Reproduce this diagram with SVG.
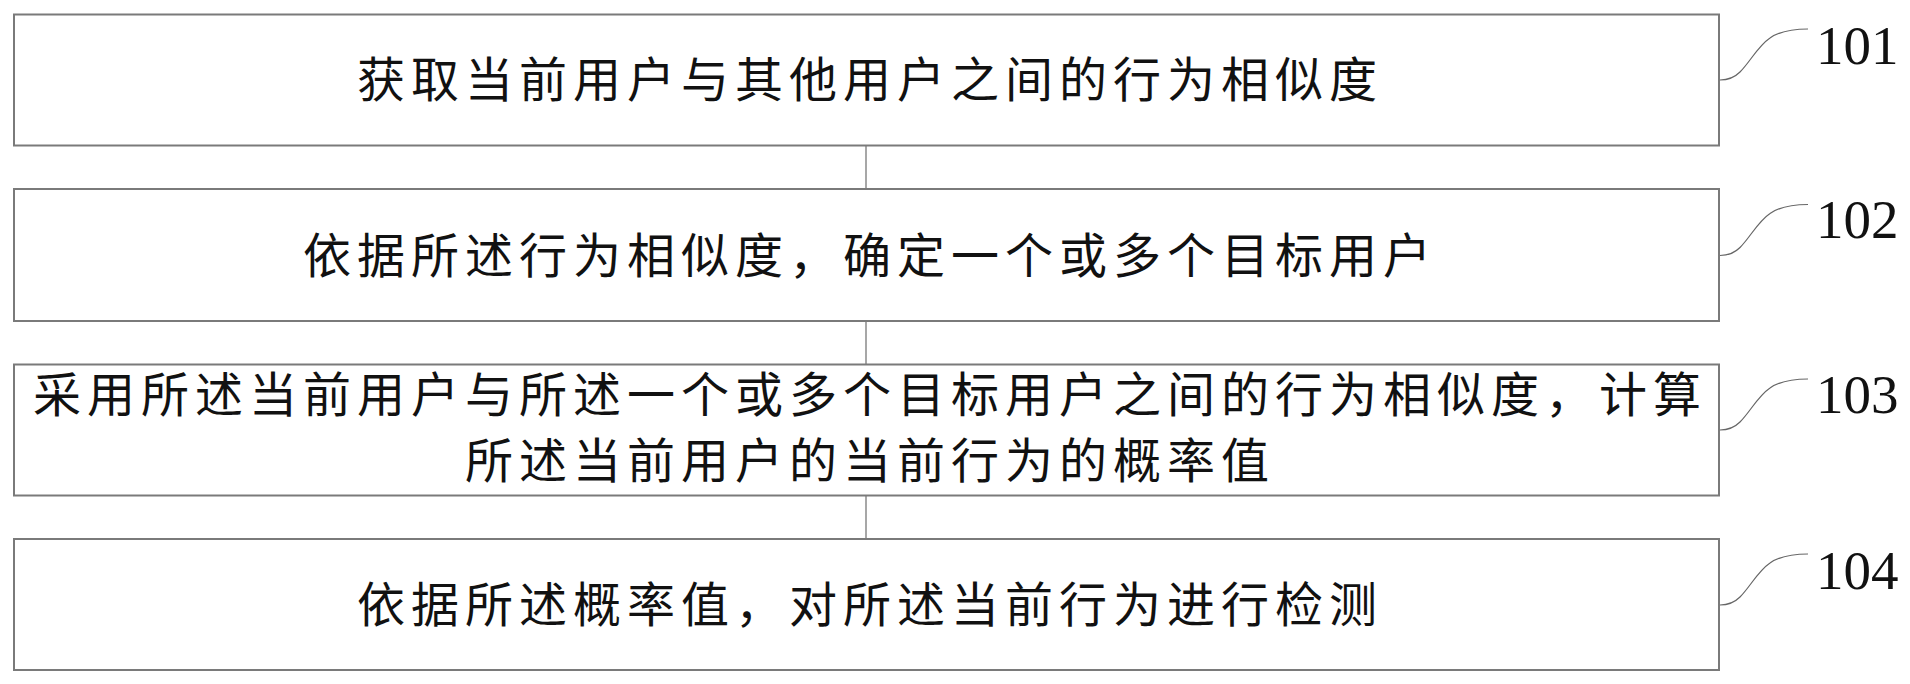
<svg xmlns="http://www.w3.org/2000/svg" width="1910" height="684" viewBox="0 0 1910 684">
<style>
.box{fill:#fff;stroke:#7a7a7a;stroke-width:2}
.conn{fill:none;stroke:#8a8a8a;stroke-width:1.5}
.lead{fill:none;stroke:#666;stroke-width:1.2}
.t{font-family:"Noto Sans CJK SC","Noto Sans CJK JP",sans-serif;font-size:48px;letter-spacing:6px;fill:#111}
.n{font-family:"Liberation Serif","Times New Roman",serif;font-size:55px;fill:#111}
</style>
<rect width="1910" height="684" fill="#fff"/>
<g id="connectors">
<line class="conn" x1="866" y1="145.5" x2="866" y2="189"/>
<line class="conn" x1="866" y1="321" x2="866" y2="364.5"/>
<line class="conn" x1="866" y1="495.5" x2="866" y2="539"/>
</g>
<g id="n101">
<rect class="box" x="14" y="14.5" width="1705" height="131"/>
<text class="t" x="357" y="97">获取当前用户与其他用户之间的行为相似度</text>
<path class="lead" d="M1720,80 c8,0 14,-2 20,-8 c10,-10 18,-26 30,-34 c10,-7 22,-9 38,-9"/>
<text class="n" x="1816" y="64">101</text>
</g>
<g id="n102">
<rect class="box" x="14" y="189" width="1705" height="132"/>
<text class="t" x="303" y="273">依据所述行为相似度，确定一个或多个目标用户</text>
<path class="lead" d="M1720,255.5 c8,0 14,-2 20,-8 c10,-10 18,-26 30,-34 c10,-7 22,-9 38,-9"/>
<text class="n" x="1816" y="238">102</text>
</g>
<g id="n103">
<rect class="box" x="14" y="364.5" width="1705" height="131"/>
<text class="t" x="33" y="412">采用所述当前用户与所述一个或多个目标用户之间的行为相似度，计算</text>
<text class="t" x="465" y="478">所述当前用户的当前行为的概率值</text>
<path class="lead" d="M1720,430 c8,0 14,-2 20,-8 c10,-10 18,-26 30,-34 c10,-7 22,-9 38,-9"/>
<text class="n" x="1816" y="413">103</text>
</g>
<g id="n104">
<rect class="box" x="14" y="539" width="1705" height="131"/>
<text class="t" x="357" y="622">依据所述概率值，对所述当前行为进行检测</text>
<path class="lead" d="M1720,605 c8,0 14,-2 20,-8 c10,-10 18,-26 30,-34 c10,-7 22,-9 38,-9"/>
<text class="n" x="1816" y="589">104</text>
</g>
</svg>
